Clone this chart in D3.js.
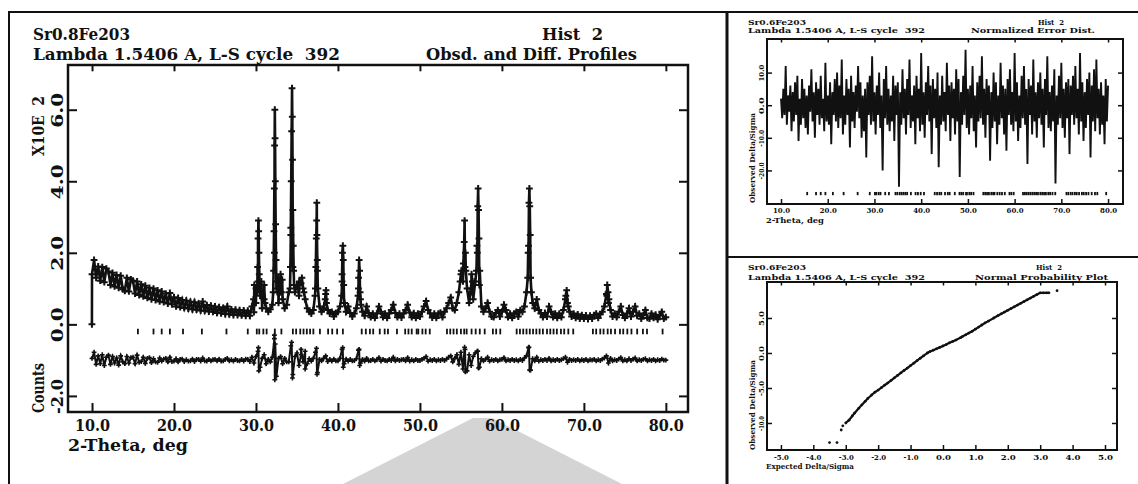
<!DOCTYPE html>
<html>
<head>
<meta charset="utf-8">
<script src="https://cdn.jsdelivr.net/npm/d3@7"></script>
<style>
  body { margin: 0; background: #fff; }
  text { font-family: "DejaVu Serif", serif; font-weight: bold; fill: #111; white-space: pre; }
</style>
</head>
<body>
<div id="chart"></div>
<script>
// ---- data ----
var obsStart = 10.0, obsStep = 0.25;   // 2-theta grid of the background scan, deg

// observed counts (x100), 4 points per degree, 10.0 .. 80.0
var obsBg = [
  1.40,1.80,1.30,1.62, 1.22,1.60,1.18,1.56, 1.48,1.10,1.44,1.06, 1.38,1.02,1.36,0.98,
  0.94,1.30,0.92,1.26, 1.22,0.86,1.20,0.82, 1.12,0.78,1.08,0.74, 1.02,0.70,1.00,0.68,
  0.95,0.64,0.92,0.62, 0.86,0.58,0.88,0.56, 0.76,0.50,0.74,0.48, 0.68,0.46,0.66,0.44,
  0.63,0.42,0.62,0.41, 0.58,0.39,0.64,0.38, 0.54,0.36,0.52,0.35, 0.50,0.32,0.48,0.31,
  0.46,0.29,0.50,0.28, 0.42,0.26,0.41,0.26, 0.40,0.25,0.39,0.24, 0.38,0.24,0.50,0.34,
  0.60,1.20,0.80,0.45, 0.70,0.45,0.35,0.42, 0.55,2.00,1.00,0.60, 0.90,0.70,0.45,0.55,
  0.90,2.50,1.60,0.90, 1.10,0.80,1.15,1.00, 0.70,0.45,0.35,0.30, 0.40,1.00,1.50,0.50,
  0.35,0.45,0.85,0.40, 0.30,0.35,0.22,0.32, 0.35,0.50,1.20,0.60, 0.35,0.50,0.32,0.22,
  0.30,0.45,1.00,0.70, 0.35,0.24,0.50,0.32, 0.20,0.30,0.18,0.30, 0.50,0.35,0.20,0.30,
  0.18,0.30,0.40,0.55, 0.32,0.20,0.30,0.19, 0.30,0.40,0.55,0.33, 0.20,0.31,0.18,0.30,
  0.22,0.35,0.50,0.65, 0.40,0.30,0.19,0.30, 0.18,0.30,0.33,0.20, 0.35,0.45,0.60,0.75,
  0.45,0.40,0.60,0.90, 1.40,1.20,1.60,1.00, 0.60,0.90,0.70,1.20, 2.00,1.10,0.50,0.35,
  0.45,0.60,0.35,0.22, 0.20,0.32,0.40,0.22, 0.35,0.55,0.40,0.20, 0.30,0.18,0.30,0.35,
  0.22,0.40,0.35,0.50, 0.90,2.20,1.30,0.60, 0.45,0.70,0.40,0.30, 0.20,0.32,0.22,0.50,
  0.35,0.20,0.30,0.18, 0.30,0.20,0.40,0.70, 0.60,0.35,0.22,0.30, 0.18,0.28,0.16,0.26,
  0.16,0.25,0.15,0.24, 0.16,0.26,0.30,0.18, 0.28,0.35,0.50,0.85, 0.60,0.40,0.22,0.30,
  0.20,0.35,0.50,0.26, 0.18,0.30,0.45,0.22, 0.35,0.50,0.24,0.30, 0.16,0.26,0.40,0.18,
  0.16,0.30,0.18,0.27, 0.14,0.25,0.35,0.16, 0.20
];

// extra observed points on the Bragg peaks [2-theta, counts x100]
var obsPeaks = [
  [9.99,0.0],
  [29.7,0.7],[29.8,1.1],[30.0,1.0],[30.15,0.9],[30.2,1.6],[30.25,2.4],[30.3,2.9],[30.33,2.6],
  [30.36,2.0],[30.4,1.4],[30.55,0.9],[30.65,1.2],[30.8,0.8],[31.0,1.1],[31.1,0.6],
  [32.1,0.9],[32.15,1.5],[32.2,2.6],[32.24,3.8],[32.27,5.0],[32.3,6.0],[32.33,5.2],[32.36,4.0],
  [32.4,2.8],[32.45,1.8],[32.5,1.2],[32.6,0.9],[32.7,1.3],[32.8,1.0],[33.0,1.4],[33.1,0.9],[33.2,1.25],
  [34.15,1.0],[34.2,1.6],[34.25,2.7],[34.3,4.0],[34.35,5.4],[34.4,6.6],[34.43,5.8],[34.46,4.6],
  [34.5,3.2],[34.55,2.2],[34.6,1.5],[34.65,1.1],
  [35.1,1.1],[35.3,1.2],[35.6,1.3],[35.85,0.9],
  [37.2,0.8],[37.3,1.6],[37.35,2.4],[37.4,2.9],[37.42,3.4],[37.44,2.5],[37.48,1.8],[37.55,1.0],
  [38.45,0.7],[38.55,0.95],[38.6,0.6],
  [40.45,0.8],[40.5,1.4],[40.55,2.0],[40.6,2.2],[40.65,1.8],[40.7,1.1],[40.8,0.6],
  [42.45,0.8],[42.52,1.3],[42.58,1.8],[42.64,1.5],[42.7,0.9],[42.8,0.55],
  [54.9,1.2],[55.05,1.5],[55.3,1.7],[55.4,2.3],[55.45,2.9],[55.55,2.0],[55.6,1.5],
  [56.2,1.0],[56.3,1.4],[56.4,1.2],
  [56.9,1.5],[56.95,2.2],[57.05,3.3],[57.1,3.8],[57.15,3.2],[57.2,2.4],[57.3,1.5],
  [63.15,1.3],[63.2,2.0],[63.3,3.4],[63.35,3.8],[63.4,3.3],[63.45,2.5],[63.6,0.9],
  [67.8,0.8],[67.9,0.95],[68.1,0.5],
  [72.8,0.8],[72.85,1.1],[72.95,0.9],[73.05,0.7]
];

// difference curve (obs - calc, shifted by -1.0), same grid as obsBg
var diffBase = [
  -0.95,-0.78,-1.12,-0.88, -1.10,-0.85,-1.15,-0.92, -0.86,-1.12,-0.90,-1.08, -0.94,-1.14,-0.88,-1.05,
  -1.10,-0.90,-1.08,-0.93, -0.92,-1.10,-0.86,-1.06, -1.04,-0.92,-1.09,-0.95, -0.93,-1.07,-0.96,-1.05,
  -1.06,-0.94,-1.03,-0.97, -0.95,-1.05,-0.92,-1.04, -1.03,-0.96,-1.05,-0.98, -0.97,-1.04,-0.99,-1.03,
  -1.02,-0.97,-1.04,-0.98, -0.98,-1.03,-0.94,-1.02, -1.03,-0.98,-1.02,-0.99, -0.98,-1.02,-0.97,-1.03,
  -1.02,-0.98,-0.95,-1.02, -0.99,-1.03,-0.98,-1.01, -1.02,-0.98,-1.03,-0.97, -0.98,-1.04,-0.92,-1.08,
  -0.90,-0.75,-1.20,-0.95, -0.85,-1.10,-0.98,-1.05, -0.92,-0.40,-1.45,-0.95, -0.90,-1.10,-0.95,-1.05,
  -1.05,-0.60,-1.40,-0.90, -0.80,-1.15,-0.85,-1.05, -0.75,-1.10,-0.96,-1.03, -0.95,-0.78,-1.35,-0.98,
  -1.02,-0.95,-0.88,-1.04, -0.98,-1.03,-0.97,-1.02, -1.02,-0.95,-0.70,-1.10, -0.97,-1.03,-0.98,-1.02,
  -1.01,-0.96,-0.72,-1.08, -0.98,-1.03,-0.95,-1.02, -1.01,-0.98,-1.02,-0.99, -0.93,-1.03,-0.98,-1.01,
  -1.02,-0.98,-1.01,-0.92, -1.02,-0.98,-1.01,-0.99, -0.98,-1.02,-0.93,-1.03, -0.99,-1.02,-0.98,-1.01,
  -1.01,-0.98,-0.95,-0.90, -1.03,-0.99,-1.01,-0.98, -1.02,-0.99,-1.01,-0.98, -1.01,-0.97,-0.92,-0.88,
  -1.05,-0.95,-0.85,-1.12, -0.78,-1.25,-0.70,-1.30, -0.85,-1.15,-0.90,-0.80, -0.75,-1.20,-0.96,-1.02,
  -0.98,-0.92,-1.03,-0.99, -1.01,-0.98,-1.02,-0.99, -0.98,-0.93,-1.02,-0.99, -1.01,-0.98,-1.01,-0.99,
  -1.02,-0.98,-1.01,-0.94, -0.88,-0.65,-1.28,-0.96, -1.02,-0.92,-1.03,-0.99, -1.01,-0.98,-1.01,-0.95,
  -1.02,-0.99,-1.01,-0.98, -1.01,-0.99,-0.96,-0.92, -1.06,-0.98,-1.01,-0.99, -1.01,-0.98,-1.02,-0.99,
  -1.01,-0.98,-1.02,-0.99, -1.00,-0.98,-1.02,-0.99, -1.01,-0.97,-0.94,-0.88, -1.08,-0.95,-1.02,-0.99,
  -1.01,-0.97,-0.93,-1.02, -0.99,-1.02,-0.96,-1.01, -0.97,-0.94,-1.02,-0.99, -1.01,-0.98,-0.96,-1.02,
  -0.99,-1.01,-0.98,-1.02, -0.99,-1.01,-0.97,-1.00, -1.00
];

var diffPeaks = [
  [30.3,-0.65],[30.35,-1.3],[32.25,-0.3],[32.3,-1.55],[32.35,-0.55],[34.35,-0.5],[34.45,-1.5],
  [35.5,-0.7],[36.0,-1.25],[37.38,-0.67],[37.45,-1.4],[40.58,-0.65],[40.65,-1.2],
  [42.58,-0.7],[42.65,-1.15],[55.45,-0.64],[55.55,-1.33],[57.05,-0.75],[57.15,-1.22],
  [63.3,-0.64],[63.38,-1.28]
];

// reflection positions, 2-theta deg
var reflections = [
  15.6,17.5,18.5,19.5,21.1,23.4,26.4,29.0,30.1,30.4,30.9,31.3,32.3,33.1,34.5,34.9,35.4,35.8,
  36.2,36.6,37.0,37.8,38.8,39.3,39.9,40.6,42.9,43.4,43.9,44.3,45.1,45.7,46.1,47.2,48.2,48.6,
  49.0,49.6,49.8,50.3,50.7,51.2,53.3,53.7,54.1,54.5,55.0,55.4,55.7,56.3,56.8,57.3,57.9,58.9,
  59.3,59.8,61.8,62.2,62.6,63.0,63.4,63.8,64.2,64.6,65.0,65.5,65.9,66.3,66.7,67.2,67.6,68.1,
  68.7,71.1,71.5,72.0,72.4,72.9,73.3,73.8,74.4,74.8,75.3,75.8,76.5,77.2,77.7,79.6
];

// normalized error (Delta/Sigma), 0.25 deg steps from 10.0
var normErr = [
  2,-4,5,-3,12,-6,3,-2,6,-8,  4,-5,7,-3,9,-11,2,-6,8,-4,  5,-7,3,-9,6,-2,11,-5,4,-10,
  7,-3,5,-6,9,-4,2,-8,13,-5,  3,-6,7,-12,4,-3,8,-5,10,-7,  6,-4,14,-9,3,-6,8,-3,5,-13,
  9,-5,4,-7,6,-2,12,-4,7,-10,  3,-8,5,-16,7,-3,9,-6,15,-5,  4,-9,6,-3,10,-7,3,-20,8,-4,
  12,-6,5,-8,3,-5,9,-11,6,-3,  7,-25,4,-6,11,-4,5,-9,8,-3,  14,-7,3,-5,6,-12,9,-4,5,-8,
  16,-6,4,-10,7,-3,12,-5,6,-15,  8,-4,5,-7,10,-19,3,-6,9,-5,  4,-8,13,-3,6,-11,7,-4,5,-9,
  11,-5,8,-22,4,-6,9,-3,17,-7,  5,-9,6,-4,12,-8,3,-13,7,-5,  9,-4,15,-6,5,-10,8,-3,6,-17,
  4,-7,10,-5,7,-12,3,-6,13,-4,  6,-9,5,-14,8,-3,11,-6,4,-8,  16,-5,7,-11,3,-7,9,-4,12,-6,
  5,-18,8,-3,6,-9,14,-5,4,-10,  7,-4,10,-6,5,-13,8,-3,15,-7,  4,-8,6,-5,11,-24,3,-6,9,-4,
  13,-7,5,-10,7,-4,8,-15,6,-3,  9,-6,12,-4,5,-9,16,-5,7,-11,  4,-7,8,-3,10,-16,6,-5,11,-8,
  14,-4,5,-9,7,-6,3,-12,8,-5,  6
];

// normal probability plot
var probExpected = [-3.50,-3.27,-3.14,-3.09,-3.0,-2.9,-2.8,-2.73,-2.6,-2.5,-2.4,-2.32,-2.2,-2.1,-2.0,
  -1.9,-1.8,-1.71,-1.6,-1.5,-1.4,-1.3,-1.2,-1.1,-1.0,-0.9,-0.8,-0.7,-0.6,-0.48,-0.4,-0.3,-0.2,-0.1,
  0.0,0.1,0.2,0.3,0.4,0.55,0.6,0.7,0.8,0.9,1.0,1.1,1.2,1.3,1.4,1.57,1.7,1.8,1.9,2.0,2.1,2.2,2.3,
  2.4,2.5,2.6,2.7,2.8,2.9,3.0,3.1,3.2,3.27,3.52];
var probObserved = [-12.8,-12.8,-11.0,-10.4,-10.0,-9.6,-9.0,-8.6,-7.9,-7.4,-6.9,-6.5,-6.0,-5.6,-5.3,
  -4.95,-4.6,-4.3,-3.9,-3.55,-3.2,-2.85,-2.5,-2.15,-1.8,-1.45,-1.1,-0.75,-0.4,0.0,0.2,0.4,0.6,0.8,
  1.0,1.2,1.45,1.65,1.85,2.2,2.35,2.6,2.85,3.1,3.4,3.7,4.0,4.3,4.55,5.0,5.35,5.6,5.85,6.1,6.35,6.6,6.85,
  7.1,7.35,7.6,7.85,8.1,8.35,8.6,8.6,8.6,8.6,8.9];

var tthTicks = [10,20,30,40,50,60,70,80];
var countTicks = [-2,0,2,4,6];
var errTicks = [-20,-10,0,10];
var probXTicks = [-5,-4,-3,-2,-1,0,1,2,3,4,5];
var probYTicks = [-10,-5,0,5];

// ---- drawing ----
var W = 1138, H = 484, ink = "#111";
var fmt1 = function (d) { return d.toFixed(1); };

var svg = d3.select("#chart").append("svg").attr("width", W).attr("height", H);
svg.append("rect").attr("width", W).attr("height", H).attr("fill", "#fff");

// faint grey watermark from the scan
svg.append("polygon").attr("points", "343,484 473,418 492,418 622,484").attr("fill", "#d4d4d4");

// page borders
svg.append("line").attr("x1", 8).attr("y1", 12).attr("x2", W).attr("y2", 12).attr("stroke", ink).attr("stroke-width", 2);
svg.append("line").attr("x1", 9).attr("y1", 12).attr("x2", 9).attr("y2", H).attr("stroke", ink).attr("stroke-width", 2);
svg.append("line").attr("x1", 727).attr("y1", 12).attr("x2", 727).attr("y2", H).attr("stroke", ink).attr("stroke-width", 3);
svg.append("line").attr("x1", 727).attr("y1", 257).attr("x2", W).attr("y2", 257).attr("stroke", ink).attr("stroke-width", 2);

function label(str, x, y, size, len, anchor) {
  var t = svg.append("text").attr("x", x).attr("y", y).attr("font-size", size).text(str);
  if (len) t.attr("textLength", len).attr("lengthAdjust", "spacingAndGlyphs");
  if (anchor) t.attr("text-anchor", anchor);
  return t;
}
function vlabel(str, x, cy, size, len) {
  svg.append("text").attr("transform", "translate(" + x + "," + cy + ") rotate(-90)")
    .attr("text-anchor", "middle").attr("font-size", size)
    .attr("textLength", len).attr("lengthAdjust", "spacingAndGlyphs").text(str);
}

// frame + inward ticks on all four sides
function frame(x, y, xt, yt, o) {
  var xr = x.range(), yr = y.range();
  var g = svg.append("g");
  g.append("g").attr("transform", "translate(0," + yr[0] + ")")
    .call(d3.axisBottom(x).tickValues(xt).tickSize(-o.tick).tickPadding(o.pad).tickFormat(fmt1));
  g.append("g").attr("transform", "translate(0," + yr[1] + ")")
    .call(d3.axisTop(x).tickValues(xt).tickSize(-o.tick * 0.7).tickFormat(""));
  var left = g.append("g").attr("transform", "translate(" + xr[0] + ",0)")
    .call(d3.axisLeft(y).tickValues(yt).tickSize(-o.tick).tickFormat(fmt1));
  g.append("g").attr("transform", "translate(" + xr[1] + ",0)")
    .call(d3.axisRight(y).tickValues(yt).tickSize(-o.tick).tickFormat(""));
  g.selectAll(".domain").remove();
  g.selectAll(".tick line").attr("stroke", ink).attr("stroke-width", o.sw);
  g.selectAll("g").attr("font-size", o.fs).attr("font-family", null);
  g.selectAll(".tick text").attr("textLength", o.tlen).attr("lengthAdjust", "spacingAndGlyphs");
  left.selectAll(".tick text").attr("x", null).attr("dy", null)
    .attr("text-anchor", "middle").attr("transform", "translate(" + o.ylab + ",0) rotate(-90)");
  g.append("rect").attr("x", xr[0]).attr("y", yr[1]).attr("width", xr[1] - xr[0])
    .attr("height", yr[0] - yr[1]).attr("fill", "none").attr("stroke", ink).attr("stroke-width", o.fw);
  return g;
}

// ===== main panel: observed and difference profiles =====
var x = d3.scaleLinear().domain([7.07, 82.7]).range([68, 688]);
var y = d3.scaleLinear().domain([-2.45, 7.25]).range([412, 65]);

var obs = obsBg.map(function (v, i) { return [obsStart + i * obsStep, v]; })
  .concat(obsPeaks).sort(function (a, b) { return a[0] - b[0]; });
var diff = diffBase.map(function (v, i) { return [obsStart + i * obsStep, v]; })
  .concat(diffPeaks).sort(function (a, b) { return a[0] - b[0]; });

var line = d3.line().x(function (d) { return x(d[0]); }).y(function (d) { return y(d[1]); });
var plus = function (s) { return "M" + (-s) + ",0h" + (2 * s) + "M0," + (-s) + "v" + (2 * s); };

svg.append("path").datum(obs).attr("d", line).attr("fill", "none").attr("stroke", ink).attr("stroke-width", 2.6);
svg.append("g").selectAll("path").data(obs).join("path")
  .attr("transform", function (d) { return "translate(" + x(d[0]) + "," + y(d[1]) + ")"; })
  .attr("d", plus(3.4)).attr("stroke", ink).attr("stroke-width", 2);

svg.append("g").selectAll("line").data(reflections).join("line")
  .attr("x1", function (d) { return x(d); }).attr("x2", function (d) { return x(d); })
  .attr("y1", y(-0.12)).attr("y2", y(-0.28)).attr("stroke", ink).attr("stroke-width", 1.8);

svg.append("path").datum(diff).attr("d", line).attr("fill", "none").attr("stroke", ink).attr("stroke-width", 2);
svg.append("g").selectAll("path").data(diff).join("path")
  .attr("transform", function (d) { return "translate(" + x(d[0]) + "," + y(d[1]) + ")"; })
  .attr("d", plus(2.4)).attr("stroke", ink).attr("stroke-width", 1.6);

frame(x, y, tthTicks, countTicks, { tick: 9, pad: 8, fs: 16, sw: 2, fw: 2.5, ylab: -5, tlen: 35 });

label("Sr0.8Fe203", 33, 40, 16, 97);
label("Lambda 1.5406 A, L-S cycle  392", 33, 60, 16, 307);
label("Hist  2", 542, 40, 16, 61);
label("Obsd. and Diff. Profiles", 426, 60, 16, 211);
label("2-Theta, deg", 68, 451, 16, 120);
vlabel("X10E  2", 44, 126, 16, 60);
vlabel("Counts", 44, 388, 16, 50);

// ===== top right: normalized error plot =====
var xe = d3.scaleLinear().domain([7.0, 83.2]).range([767, 1123]);
var ye = d3.scaleLinear().domain([-30.3, 20.3]).range([204, 39]);
var err = normErr.map(function (v, i) { return [obsStart + i * obsStep, v]; });
svg.append("path").datum(err)
  .attr("d", d3.line().x(function (d) { return xe(d[0]); }).y(function (d) { return ye(d[1]); }))
  .attr("fill", "none").attr("stroke", ink).attr("stroke-width", 1.9);
svg.append("g").selectAll("line").data(reflections).join("line")
  .attr("x1", function (d) { return xe(d); }).attr("x2", function (d) { return xe(d); })
  .attr("y1", ye(-26.6)).attr("y2", ye(-27.6)).attr("stroke", ink).attr("stroke-width", 1.8);
frame(xe, ye, tthTicks, errTicks, { tick: 5, pad: 3, fs: 8, sw: 1.5, fw: 2, ylab: -3, tlen: 17 });

label("Sr0.6Fe203", 748, 25, 8, 58);
label("Lambda 1.5406 A, L-S cycle  392", 748, 33, 8, 177);
label("Hist  2", 1038, 25, 8, 26);
label("Normalized Error Dist.", 971, 33, 8, 124);
label("2-Theta, deg", 766, 223, 8, 58);
vlabel("Observed Delta/Sigma", 755, 158, 8, 90);

// ===== bottom right: normal probability plot =====
var xp = d3.scaleLinear().domain([-5.43, 5.37]).range([767, 1117]);
var yp = d3.scaleLinear().domain([-13.86, 10.14]).range([450, 282]);
var prob = probExpected.map(function (v, i) { return [v, probObserved[i]]; });
svg.append("path").datum(prob.slice(4, prob.length - 1))
  .attr("d", d3.line().x(function (d) { return xp(d[0]); }).y(function (d) { return yp(d[1]); }))
  .attr("fill", "none").attr("stroke", ink).attr("stroke-width", 2.2);
svg.append("g").selectAll("circle").data(prob).join("circle")
  .attr("cx", function (d) { return xp(d[0]); }).attr("cy", function (d) { return yp(d[1]); })
  .attr("r", 1.4).attr("fill", ink);
frame(xp, yp, probXTicks, probYTicks, { tick: 5, pad: 4, fs: 8, sw: 1.5, fw: 2, ylab: -3, tlen: 15 });

label("Sr0.6Fe203", 748, 270, 8, 58);
label("Lambda 1.5406 A, L-S cycle  392", 748, 280, 8, 177);
label("Hist  2", 1036, 270, 8, 26);
label("Normal Probability Plot", 975, 280, 8, 133);
label("Expected Delta/Sigma", 766, 469, 8, 88);
vlabel("Observed Delta/Sigma", 755, 405, 8, 90);
</script>
</body>
</html>
